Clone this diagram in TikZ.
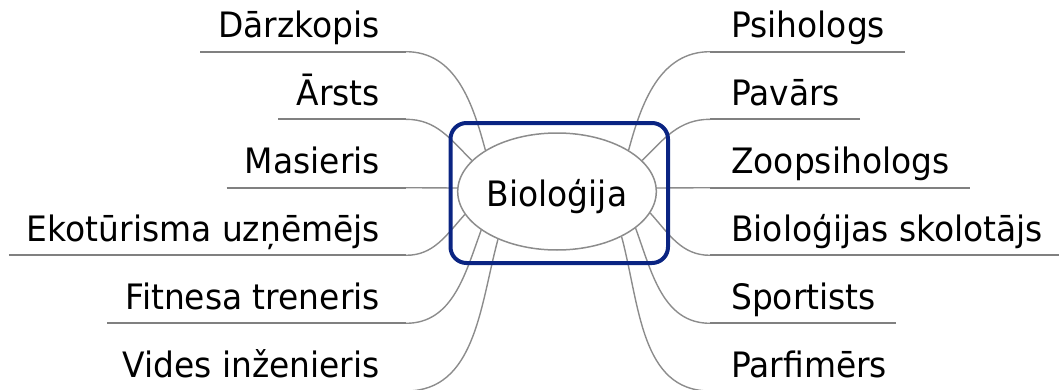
\documentclass[tikz,border=0pt]{standalone}
\usepackage{fontspec}
\setmainfont{DejaVu Sans}[FakeStretch=0.94]
\usetikzlibrary{shapes.geometric,calc}
\definecolor{LineClr}{RGB}{128,128,128}
\definecolor{CurveClr}{RGB}{140,140,140}
\definecolor{FrameClr}{RGB}{10,36,130}

\begin{document}
\begin{tikzpicture}[x=1pt,y=1pt,
  lbl/.style={font=\fontsize{35}{42}\selectfont,inner sep=0pt},
  underline/.style={draw=LineClr,line width=2pt},
  branch/.style={draw=CurveClr,line width=1.4pt},
  hub/.style={ellipse,draw=CurveClr,line width=1.5pt,minimum width=193pt,minimum height=117pt,inner sep=0pt,font=\fontsize{35}{42}\selectfont},
  frame/.style={draw=FrameClr,line width=4pt,rounded corners=16pt,minimum width=217.5pt,minimum height=140pt,inner sep=0pt}]

\useasboundingbox (0,0) rectangle (1059,389);

\node[hub,text height=30.4pt,text depth=0pt] (bio) at (557,197.5) {Bioloģija};

\node[lbl,anchor=base east] (darz) at (380,351.3) {Dārzkopis};
\node[lbl,anchor=base east] (arsts) at (380,283.7) {Ārsts};
\node[lbl,anchor=base east] (mas) at (380,215.3) {Masieris};
\node[lbl,anchor=base east] (eko) at (380,147.7) {Ekotūrisma uzņēmējs};
\node[lbl,anchor=base east] (fit) at (380,79.7) {Fitnesa treneris};
\node[lbl,anchor=base east] (vid) at (380,12) {Vides inženieris};

\node[lbl,anchor=base west] (psi) at (731,351.3) {Psihologs};
\node[lbl,anchor=base west] (pav) at (731,283.7) {Pavārs};
\node[lbl,anchor=base west] (zoo) at (731,215.3) {Zoopsihologs};
\node[lbl,anchor=base west] (skol) at (731,147.7) {Bioloģijas skolotājs};
\node[lbl,anchor=base west] (sport) at (731,79.7) {Sportists};
\node[lbl,anchor=base west] (parf) at (731,12) {Parfimērs};

\coordinate (darzA) at ([shift={(-18,-14)}]darz.base west);
\coordinate (arstsA) at ([shift={(-18,-14)}]arsts.base west);
\coordinate (masA) at ([shift={(-18,-14)}]mas.base west);
\coordinate (ekoA) at ([shift={(-18,-14)}]eko.base west);
\coordinate (fitA) at ([shift={(-18,-14)}]fit.base west);
\coordinate (vidA) at ([shift={(-18,-14)}]vid.base west);
\coordinate (darzB) at (406,337.3);
\coordinate (arstsB) at (406,269.7);
\coordinate (masB) at (406,201.3);
\coordinate (ekoB) at (406,133.7);
\coordinate (fitB) at (406,65.7);
\coordinate (vidB) at (406,-2);

\coordinate (psiA) at ([shift={(20,-14)}]psi.base east);
\coordinate (pavA) at ([shift={(20,-14)}]pav.base east);
\coordinate (zooA) at ([shift={(20,-14)}]zoo.base east);
\coordinate (skolA) at ([shift={(20,-14)}]skol.base east);
\coordinate (sportA) at ([shift={(20,-14)}]sport.base east);
\coordinate (parfA) at ([shift={(20,-14)}]parf.base east);
\coordinate (psiB) at (710,337.3);
\coordinate (pavB) at (710,269.7);
\coordinate (zooB) at (710,201.3);
\coordinate (skolB) at (710,133.7);
\coordinate (sportB) at (710,65.7);
\coordinate (parfB) at (710,-2);

\draw[underline] (darzA) -- (darzB);
\draw[underline] (arstsA) -- (arstsB);
\draw[underline] (masA) -- (masB);
\draw[underline] (ekoA) -- (ekoB);
\draw[underline] (fitA) -- (fitB);
\draw[underline] (vidA) -- (vidB);
\draw[underline] (psiA) -- (psiB);
\draw[underline] (pavA) -- (pavB);
\draw[underline] (zooA) -- (zooB);
\draw[underline] (skolA) -- (skolB);
\draw[underline] (sportA) -- (sportB);
\draw[underline] (parfA) -- (parfB);

\draw[branch] (darzB) to[out=0,in=105] (bio.150);
\draw[branch] (arstsB) to[out=0,in=135] (bio.160);
\draw[branch] (masB) -- (bio.178);
\draw[branch] (ekoB) to[out=0,in=228] (bio.194);
\draw[branch] (fitB) to[out=0,in=250] (bio.207);
\draw[branch] (vidB) to[out=0,in=255] (bio.219);

\draw[branch] (psiB) to[out=180,in=75] (bio.30);
\draw[branch] (pavB) to[out=180,in=45] (bio.20);
\draw[branch] (zooB) -- (bio.2);
\draw[branch] (skolB) to[out=180,in=-48] (bio.-13);
\draw[branch] (sportB) to[out=180,in=-70] (bio.-25);
\draw[branch] (parfB) to[out=180,in=-75] (bio.-35);

\node[frame] (box) at (559.25,196) {};

\end{tikzpicture}
\end{document}
